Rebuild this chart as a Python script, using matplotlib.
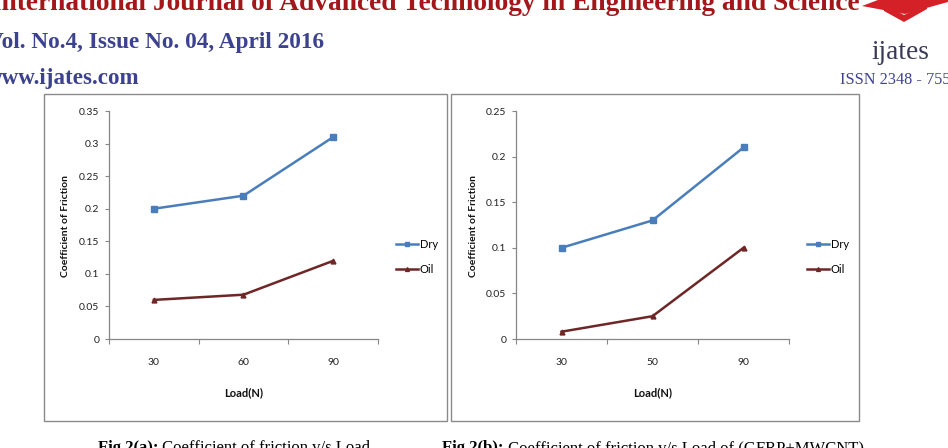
import matplotlib
matplotlib.use('Agg')
import matplotlib.pyplot as plt
from matplotlib.patches import Rectangle, Polygon

# data
loads_a = ['30', '60', '90']
dry_a = [0.20, 0.22, 0.31]
oil_a = [0.06, 0.068, 0.12]

loads_b = ['30', '50', '90']
dry_b = [0.10, 0.13, 0.21]
oil_b = [0.008, 0.025, 0.10]

yticks_a = [0, 0.05, 0.1, 0.15, 0.2, 0.25, 0.3, 0.35]
yticks_b = [0, 0.05, 0.1, 0.15, 0.2, 0.25]

W, H = 948, 448
BLUE = '#4a7ebb'
MAROON = '#6e2626'
GRID = '#868686'
NAVY = '#3d4290'
SANS = ['Lato', 'DejaVu Sans']
SERIF = ['Liberation Serif', 'DejaVu Serif']

fig = plt.figure(figsize=(W / 100, H / 100), dpi=100)
fig.patch.set_facecolor('white')


def fx(x):
    return x / W


def fy(y):
    return 1 - y / H


def box(x0, y0, x1, y1):
    return [fx(x0), fy(y1), fx(x1) - fx(x0), fy(y0) - fy(y1)]


def fit_text(x, y, s, width, **kw):
    # scale the font so the string covers the width seen on the page
    t = fig.text(fx(x), fy(y), s, **kw)
    r = fig.canvas.get_renderer()
    w = t.get_window_extent(r).width
    t.set_fontsize(t.get_fontsize() * width / w)
    return t


def panel(rect, cats, dry, oil, yticks, ylab_x, leg_x):
    ax = fig.add_axes(box(*rect))
    xs = range(len(cats))
    ax.plot(xs, dry, color=BLUE, lw=1.8, marker='s', ms=4, label='Dry')
    ax.plot(xs, oil, color=MAROON, lw=1.8, marker='^', ms=3.5, label='Oil')
    ax.set_xlim(-0.5, len(cats) - 0.5)
    ax.set_ylim(0, yticks[-1])
    ax.set_yticks(yticks)
    ax.set_yticklabels(['{:g}'.format(v) for v in yticks])
    ax.set_xticks([i - 0.5 for i in range(len(cats) + 1)])
    ax.set_xticklabels([])
    ax.set_xticks(list(xs), minor=True)
    ax.set_xticklabels(cats, minor=True)
    ax.tick_params(axis='x', which='major', length=3.5, color=GRID, direction='out')
    ax.tick_params(axis='x', which='minor', length=0, pad=14)
    ax.tick_params(axis='y', length=3, color=GRID, pad=4)
    for lab in ax.get_xticklabels(minor=True) + ax.get_yticklabels():
        lab.set_family(SANS)
        lab.set_fontsize(7.5)
        lab.set_color('#222222')
    for s in ('top', 'right'):
        ax.spines[s].set_visible(False)
    for s in ('left', 'bottom'):
        ax.spines[s].set_color(GRID)
        ax.spines[s].set_linewidth(0.9)
    ax.set_facecolor('none')
    fig.text(fx(ylab_x), fy(226), 'Coefficient of Friction', rotation=90,
             ha='center', va='center', family=SANS, fontsize=7.5,
             fontweight='bold', color='#111111')
    cx = (rect[0] + rect[2]) / 2
    fig.text(fx(cx), fy(393), 'Load(N)', ha='center', va='center',
             family=SANS, fontsize=8, fontweight='bold', color='#111111')
    ax.legend(loc='center left', bbox_to_anchor=(fx(leg_x), fy(257)),
              bbox_transform=fig.transFigure, frameon=False,
              prop={'family': SANS, 'size': 8}, handlelength=2.0,
              handletextpad=0.15, labelspacing=1.3, borderpad=0,
              borderaxespad=0, markerscale=0.8)
    return ax


# chart frames
for x0, x1 in ((44, 447), (451, 859)):
    fig.add_artist(Rectangle((fx(x0), fy(421)), fx(x1) - fx(x0),
                             fy(94) - fy(421), transform=fig.transFigure,
                             fill=False, edgecolor='#8a8a8a', lw=1))

panel((109, 111, 378, 339), loads_a, dry_a, oil_a, yticks_a, 66, 396)
panel((516, 111, 789, 339), loads_b, dry_b, oil_b, yticks_b, 473, 807)

# page header
fit_text(-9, 10, 'International Journal of Advanced Technology in Engineering and Science',
         870, family=SERIF, fontweight='bold', color='#a3161a', fontsize=18,
         va='baseline')
fit_text(-13, 48, 'Vol. No.4, Issue No. 04, April 2016', 338,
         family=SERIF, fontweight='bold', color=NAVY, fontsize=16, va='baseline')
fit_text(-14, 84, 'www.ijates.com', 154, family=SERIF, fontweight='bold',
         color=NAVY, fontsize=16, va='baseline')

# logo
fig.add_artist(Polygon([(fx(862), fy(6)), (fx(915), fy(-14)), (fx(955), fy(0)),
                        (fx(905), fy(14))], closed=True, transform=fig.transFigure,
                       facecolor='#d42027', edgecolor='none'))
fig.add_artist(Polygon([(fx(884), fy(11)), (fx(904), fy(22)), (fx(927), fy(9)),
                        (fx(927), fy(4)), (fx(904), fy(15)), (fx(884), fy(5))],
                       closed=True, transform=fig.transFigure,
                       facecolor='#d42027', edgecolor='none'))
fit_text(871, 59, 'ijates', 58, family=SERIF, color='#3a3a58', fontsize=20,
         va='baseline')
fit_text(840, 84, 'ISSN 2348 - 755', 110, family=SERIF, color=NAVY,
         fontsize=12, va='baseline')

# captions
r = fig.canvas.get_renderer()
for x, bold, rest in ((98, 'Fig 2(a):', ' Coefficient of friction v/s Load'),
                      (442, 'Fig 2(b):', ' Coefficient of friction v/s Load of (GFRP+MWCNT)')):
    t = fig.text(fx(x), fy(452), bold, family=SERIF, fontweight='bold',
                 fontsize=12, va='baseline')
    w = t.get_window_extent(r).width
    fig.text(fx(x + w), fy(452), rest, family=SERIF, fontsize=12, va='baseline')

fig.savefig('out.png', dpi=100)
